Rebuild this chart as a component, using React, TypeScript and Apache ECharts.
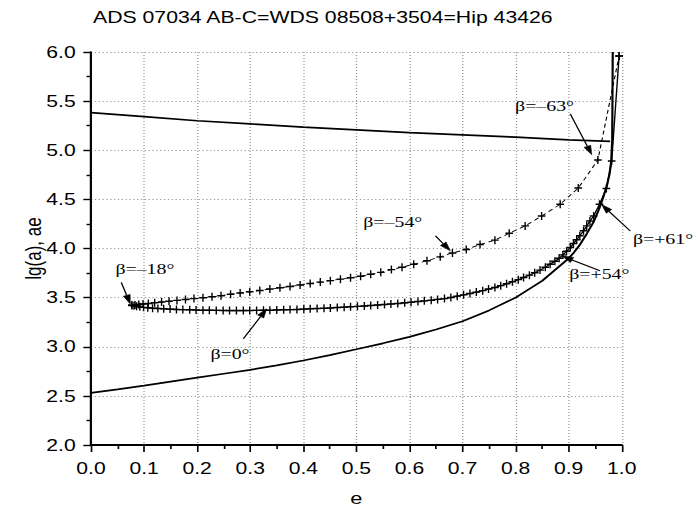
import React, { useEffect, useRef } from "react";
import * as echarts from "echarts";

const TITLE = "ADS 07034 AB-C=WDS 08508+3504=Hip 43426";
const X_NAME = "e";
const Y_NAME = "lg(a), ae";

// Series A: dashed branch with + markers (β=-18° ... β=-54° ... β=-63°)
const eA = [0.077, 0.083, 0.09, 0.098, 0.108, 0.12, 0.133, 0.147, 0.162, 0.178, 0.194, 0.211, 0.228, 0.245, 0.263, 0.281, 0.299, 0.318, 0.337, 0.356, 0.375, 0.394, 0.413, 0.432, 0.451, 0.47, 0.489, 0.508, 0.527, 0.546, 0.566, 0.586, 0.608, 0.633, 0.658, 0.681, 0.707, 0.733, 0.761, 0.788, 0.818, 0.849, 0.884, 0.918, 0.955, 0.995];
const lgA = [3.42, 3.425, 3.43, 3.435, 3.44, 3.447, 3.455, 3.463, 3.472, 3.481, 3.49, 3.498, 3.508, 3.52, 3.535, 3.548, 3.56, 3.573, 3.587, 3.6, 3.614, 3.628, 3.643, 3.658, 3.673, 3.688, 3.703, 3.718, 3.737, 3.757, 3.785, 3.81, 3.84, 3.875, 3.915, 3.955, 3.99, 4.04, 4.085, 4.155, 4.23, 4.33, 4.45, 4.615, 4.9, 5.96];

// Series B: solid branch with + markers (β=0° ... β=+54° ... β=+61°)
const eB = [0.077, 0.081, 0.086, 0.092, 0.099, 0.107, 0.116, 0.126, 0.137, 0.149, 0.161, 0.173, 0.186, 0.198, 0.211, 0.223, 0.236, 0.249, 0.261, 0.274, 0.287, 0.299, 0.312, 0.325, 0.337, 0.35, 0.363, 0.375, 0.388, 0.401, 0.413, 0.426, 0.439, 0.451, 0.464, 0.477, 0.489, 0.502, 0.515, 0.527, 0.54, 0.553, 0.565, 0.578, 0.591, 0.603, 0.616, 0.628, 0.641, 0.653, 0.666, 0.678, 0.69, 0.702, 0.714, 0.726, 0.738, 0.749, 0.761, 0.772, 0.783, 0.794, 0.805, 0.815, 0.826, 0.836, 0.846, 0.856, 0.865, 0.874, 0.882, 0.889, 0.896, 0.903, 0.909, 0.915, 0.921, 0.928, 0.934, 0.94, 0.947, 0.958, 0.971, 0.981, 0.995];
const lgB = [3.425, 3.418, 3.412, 3.406, 3.401, 3.397, 3.393, 3.389, 3.386, 3.383, 3.38, 3.378, 3.376, 3.374, 3.372, 3.371, 3.37, 3.369, 3.368, 3.368, 3.368, 3.369, 3.37, 3.371, 3.372, 3.374, 3.376, 3.378, 3.38, 3.383, 3.386, 3.389, 3.392, 3.395, 3.399, 3.403, 3.407, 3.411, 3.415, 3.42, 3.425, 3.43, 3.435, 3.441, 3.447, 3.453, 3.46, 3.467, 3.474, 3.482, 3.49, 3.502, 3.515, 3.528, 3.542, 3.556, 3.571, 3.587, 3.604, 3.622, 3.641, 3.661, 3.683, 3.705, 3.729, 3.754, 3.78, 3.81, 3.84, 3.87, 3.9, 3.935, 3.972, 4.01, 4.05, 4.09, 4.13, 4.18, 4.23, 4.28, 4.33, 4.45, 4.61, 4.89, 5.96];

// Curve C: lower bound (solid)
const eC = [0, 0.05, 0.1, 0.15, 0.2, 0.25, 0.3, 0.35, 0.4, 0.45, 0.5, 0.55, 0.6, 0.65, 0.7, 0.75, 0.8, 0.85, 0.9, 0.91, 0.92, 0.934, 0.947, 0.957, 0.965, 0.972, 0.977, 0.98, 0.982, 0.983];
const lgC = [2.53, 2.567, 2.605, 2.645, 2.685, 2.725, 2.765, 2.81, 2.86, 2.915, 2.975, 3.035, 3.1, 3.175, 3.26, 3.37, 3.5, 3.67, 3.9, 3.96, 4.03, 4.15, 4.27, 4.4, 4.52, 4.64, 4.76, 4.88, 5.1, 6.0];

// Curve D: upper bound (solid)
const eD = [0, 0.1, 0.2, 0.3, 0.4, 0.5, 0.6, 0.7, 0.8, 0.9, 0.978];
const lgD = [5.383, 5.342, 5.3, 5.268, 5.235, 5.207, 5.18, 5.157, 5.133, 5.106, 5.09];

// Annotations (data coordinates)
const notes = [
  { text: "β=–63°", at: [0.799, 5.45], from: [0.903, 5.37], to: [0.9435, 4.955] },
  { text: "β=–54°", at: [0.513, 4.276], from: [0.649, 4.128], to: [0.677, 3.976] },
  { text: "β=–18°", at: [0.046, 3.79], from: [0.057, 3.656], to: [0.074, 3.436] },
  { text: "β=0°", at: [0.225, 2.93], from: [0.287, 3.082], to: [0.331, 3.386] },
  { text: "β=+54°", at: [0.901, 3.74], from: [0.959, 3.773], to: [0.887, 3.925] },
  { text: "β=+61°", at: [1.021, 4.104], from: [1.016, 4.178], to: [0.962, 4.448] },
];

const PLUS = "path://M4.1,0h1.8v4.1h4.1v1.8h-4.1v4.1h-1.8v-4.1h-4.1v-1.8h4.1z";

// the reference picture is stretched horizontally
const SX = 1.28;
const W = 694;
const H = 511;

const zip = (xs: number[], ys: number[]) => xs.map((x, i) => [x, ys[i]]);

export default function App() {
  const ref = useRef<HTMLDivElement>(null);
  useEffect(() => {
    if (!ref.current) return;
    const chart = echarts.init(ref.current, undefined, { renderer: "svg" });
    const sans = "Liberation Sans";
    const k = 1 / SX;
    chart.setOption({
      animation: false,
      backgroundColor: "#fff",
      title: {
        text: TITLE,
        left: 93 * k,
        top: 9,
        padding: 0,
        textStyle: { fontFamily: sans, fontSize: 16.6, fontWeight: "normal", color: "#000" },
      },
      grid: { left: 91 * k, right: 72 * k, top: 52, bottom: 64, containLabel: false },
      xAxis: {
        type: "value",
        min: 0,
        max: 1,
        interval: 0.1,
        name: X_NAME,
        nameLocation: "middle",
        nameGap: 44,
        nameMoveOverlap: false,
        nameTextStyle: { fontFamily: sans, fontSize: 17, color: "#000" },
        axisLine: { show: true, onZero: false, lineStyle: { color: "#000", width: 2 } },
        axisTick: { show: true, inside: false, length: 7, lineStyle: { color: "#000", width: 1.3 } },
        minorTick: { show: true, splitNumber: 2, length: 4, lineStyle: { color: "#000", width: 1.3 } },
        axisLabel: { formatter: (v: number) => v.toFixed(1), fontFamily: sans, fontSize: 16.5, color: "#000", margin: 15 },
        splitLine: { show: true, lineStyle: { color: "#999", type: [1, 2], width: 1 } },
      },
      yAxis: {
        type: "value",
        min: 2,
        max: 6,
        interval: 0.5,
        name: Y_NAME,
        nameLocation: "middle",
        nameGap: 37,
        nameRotate: 90,
        nameMoveOverlap: false,
        nameTextStyle: { fontFamily: sans, fontSize: 17, color: "#000" },
        axisLine: { show: true, onZero: false, lineStyle: { color: "#000", width: 1.7 } },
        axisTick: { show: true, inside: false, length: 6, lineStyle: { color: "#000", width: 1.4 } },
        minorTick: { show: true, splitNumber: 2, length: 3.5, lineStyle: { color: "#000", width: 1.4 } },
        axisLabel: { formatter: (v: number) => v.toFixed(1), fontFamily: sans, fontSize: 16.5, color: "#000", margin: 12 },
        splitLine: { show: true, lineStyle: { color: "#999", type: [1, 2], width: 1 } },
      },
      series: [
        {
          type: "line",
          data: zip(eC, lgC),
          showSymbol: false,
          symbol: "none",
          clip: true,
          lineStyle: { color: "#000", width: 1.7 },
          z: 3,
        },
        {
          type: "line",
          data: zip(eD, lgD),
          showSymbol: false,
          symbol: "none",
          clip: true,
          lineStyle: { color: "#000", width: 1.7 },
          z: 3,
        },
        {
          type: "line",
          data: zip(eA, lgA),
          symbol: PLUS,
          symbolSize: [6, 8],
          showAllSymbol: true,
          clip: true,
          itemStyle: { color: "#000" },
          lineStyle: { color: "#000", width: 0.9, type: [4, 3] },
          z: 4,
        },
        {
          type: "line",
          data: zip(eB, lgB),
          symbol: PLUS,
          symbolSize: [6, 8],
          showAllSymbol: true,
          clip: true,
          itemStyle: { color: "#000" },
          lineStyle: { color: "#000", width: 1.1 },
          z: 4,
        },
      ],
    });

    const px = (p: number[]) => chart.convertToPixel({ gridIndex: 0 }, p) as number[];
    const graphic: any[] = [];
    notes.forEach((n) => {
      const t = px(n.at);
      const a = px(n.from);
      const b = px(n.to);
      const dx = b[0] - a[0];
      const dy = b[1] - a[1];
      const len = Math.hypot(dx, dy) || 1;
      const ux = dx / len;
      const uy = dy / len;
      const hl = 9;
      const hw = 2.8;
      const bx = b[0] - ux * hl;
      const by = b[1] - uy * hl;
      graphic.push({
        type: "line",
        shape: { x1: a[0], y1: a[1], x2: bx, y2: by },
        style: { stroke: "#000", lineWidth: 1.1 },
        z: 100,
      });
      graphic.push({
        type: "polygon",
        shape: {
          points: [
            [b[0], b[1]],
            [bx - uy * hw, by + ux * hw],
            [bx + uy * hw, by - ux * hw],
          ],
        },
        style: { fill: "#000", stroke: "#000", lineWidth: 0.5 },
        z: 100,
      });
      graphic.push({
        type: "text",
        x: t[0],
        y: t[1],
        style: {
          text: n.text,
          fontFamily: "Liberation Serif",
          fontSize: 15.5,
          fill: "#000",
          align: "left",
          verticalAlign: "middle",
        },
        z: 101,
      });
    });
    chart.setOption({ graphic });

    return () => chart.dispose();
  }, []);

  return (
    <div
      style={{ position: "fixed", left: 0, top: 0, width: W, height: H, overflow: "hidden", background: "#fff" }}
    >
      <div
        ref={ref}
        style={{
          width: W / SX,
          height: H,
          transform: `scaleX(${SX})`,
          transformOrigin: "0 0",
        }}
      />
    </div>
  );
}
